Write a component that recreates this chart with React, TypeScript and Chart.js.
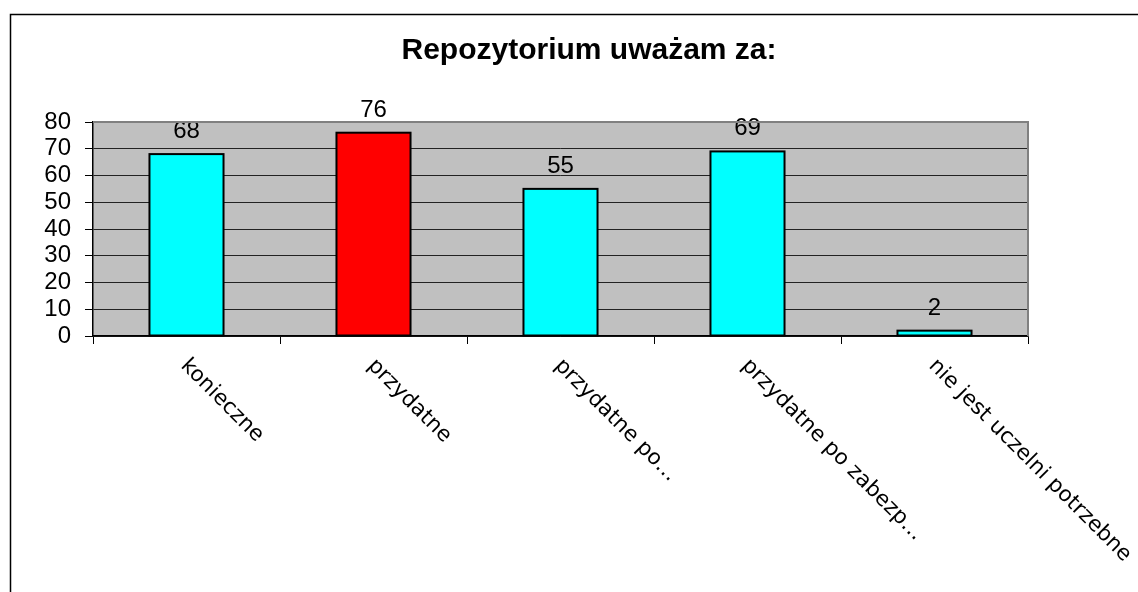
import { useEffect, useRef } from "react";
import { Chart, registerables } from "chart.js";

Chart.register(...registerables);

const chartTitle = "Repozytorium uważam za:";
const categories = [
  "konieczne",
  "przydatne",
  "przydatne po…",
  "przydatne po zabezp…",
  "nie jest uczelni potrzebne",
];
const values = [68, 76, 55, 69, 2];
const barColors = ["#00FFFF", "#FF0000", "#00FFFF", "#00FFFF", "#00FFFF"];
const yMin = 0;
const yMax = 80;
const yStep = 10;

const decorPlugin = {
  id: "decor",
  beforeDraw(chart: any) {
    const { ctx, chartArea } = chart;
    ctx.save();
    ctx.fillStyle = "#FFFFFF";
    ctx.fillRect(0, 0, chart.width, chart.height);
    ctx.fillStyle = "#C0C0C0";
    ctx.fillRect(chartArea.left, chartArea.top, chartArea.right - chartArea.left, chartArea.bottom - chartArea.top);
    ctx.restore();
  },
  afterDatasetsDraw(chart: any) {
    const { ctx } = chart;
    const meta = chart.getDatasetMeta(0);
    ctx.save();
    // bar outlines centred on the bar edges
    ctx.strokeStyle = "#000";
    ctx.lineWidth = 2;
    meta.data.forEach((bar: any) => {
      const w = bar.width;
      ctx.strokeRect(bar.x - w / 2, bar.y, w, bar.base - bar.y);
    });
    ctx.fillStyle = "#000";
    ctx.font = "24px 'Liberation Sans', Arial, sans-serif";
    ctx.textAlign = "center";
    ctx.textBaseline = "alphabetic";
    meta.data.forEach((bar: any, i: number) => {
      ctx.fillText(String(values[i]), bar.x, bar.y - 16);
    });
    ctx.restore();
  },
  afterDraw(chart: any) {
    const { ctx, chartArea } = chart;
    const xs = chart.scales.x;
    ctx.save();
    // plot area top/right border
    ctx.strokeStyle = "#808080";
    ctx.lineWidth = 2;
    ctx.beginPath();
    ctx.moveTo(chartArea.left, chartArea.top);
    ctx.lineTo(chartArea.right, chartArea.top);
    ctx.lineTo(chartArea.right, chartArea.bottom);
    ctx.stroke();
    // outer frame
    ctx.strokeStyle = "#000";
    ctx.lineWidth = 1.5;
    ctx.beginPath();
    ctx.moveTo(10.5, chart.height);
    ctx.lineTo(10.5, 14.5);
    ctx.lineTo(chart.width, 14.5);
    ctx.stroke();
    // title
    ctx.fillStyle = "#000";
    ctx.font = "bold 30px 'Liberation Sans', Arial, sans-serif";
    ctx.textAlign = "center";
    ctx.textBaseline = "alphabetic";
    ctx.fillText(chartTitle, 589, 59);
    // rotated category labels
    ctx.font = "21.5px 'DejaVu Sans', Verdana, sans-serif";
    ctx.textAlign = "left";
    ctx.textBaseline = "top";
    categories.forEach((c, i) => {
      const x = xs.getPixelForValue(i);
      ctx.save();
      ctx.translate(x + 5, 355);
      ctx.rotate(Math.PI / 4);
      ctx.fillText(c, 0, 0);
      ctx.restore();
    });
    ctx.restore();
  },
};

export default function App() {
  const ref = useRef<HTMLCanvasElement | null>(null);
  useEffect(() => {
    if (!ref.current) return;
    const chart = new Chart(ref.current, {
      type: "bar",
      data: {
        labels: categories,
        datasets: [
          {
            data: values,
            backgroundColor: barColors,
            borderWidth: 0,
            barPercentage: 0.396,
            categoryPercentage: 1,
          },
        ],
      },
      options: {
        animation: false,
        responsive: true,
        maintainAspectRatio: false,
        layout: { padding: { left: 0, right: 110, top: 122, bottom: 248 } },
        plugins: { legend: { display: false }, tooltip: { enabled: false }, title: { display: false } },
        scales: {
          x: {
            grid: { drawOnChartArea: false, drawTicks: true, tickLength: 8, color: "#000", offset: true },
            border: { color: "#000", width: 1.5 },
            ticks: { display: false },
            afterFit(s: any) {
              s.height = 8;
            },
          },
          y: {
            min: yMin,
            max: yMax,
            ticks: {
              stepSize: yStep,
              autoSkip: false,
              color: "#000",
              padding: 14,
              font: { family: "'Liberation Sans', Arial, sans-serif", size: 24 },
            },
            grid: { color: "#222", tickColor: "#000", tickLength: 8, lineWidth: 1 },
            border: { color: "#000", width: 1.5 },
            afterFit(s: any) {
              s.width = 93;
            },
          },
        },
      },
      plugins: [decorPlugin],
    });
    return () => chart.destroy();
  }, []);
  return (
    <div style={{ position: "absolute", left: 0, top: 0, width: 1138, height: 592 }}>
      <canvas ref={ref} />
    </div>
  );
}
